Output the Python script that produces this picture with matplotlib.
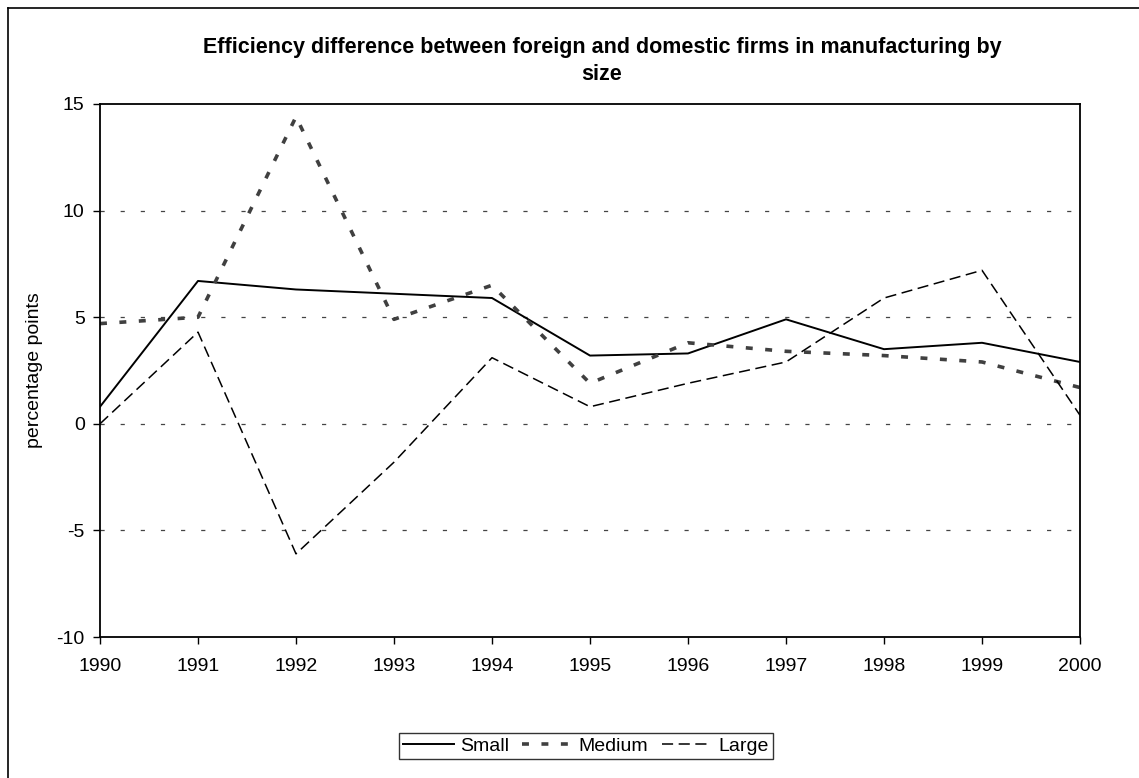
import matplotlib
matplotlib.use('Agg')
import matplotlib.pyplot as plt
from matplotlib.lines import Line2D

plt.rcParams['font.family'] = ['Liberation Sans', 'DejaVu Sans']
plt.rcParams['lines.scale_dashes'] = False
plt.rcParams['axes.unicode_minus'] = False

# efficiency gap, foreign minus domestic, percentage points
years = [1990, 1991, 1992, 1993, 1994, 1995, 1996, 1997, 1998, 1999, 2000]
small = [0.8, 6.7, 6.3, 6.1, 5.9, 3.2, 3.3, 4.9, 3.5, 3.8, 2.9]
medium = [4.7, 5.0, 14.4, 4.9, 6.5, 1.9, 3.8, 3.4, 3.2, 2.9, 1.7]
large = [0.0, 4.3, -6.1, -1.8, 3.1, 0.8, 1.9, 2.9, 5.9, 7.2, 0.4]

W, H = 1139, 778
fig = plt.figure(figsize=(W / 100, H / 100), dpi=100)
ax = fig.add_axes([100 / W, 1 - 637 / H, (1080 - 100) / W, (637 - 104) / H])

ax.plot(years, small, color='black', lw=1.4, label='Small')
ax.plot(years, medium, color='#404040', lw=2.6, dashes=(5, 9), label='Medium')
ax.plot(years, large, color='black', lw=1.1, dashes=(8, 4), label='Large')

ax.set_xlim(1990, 2000)
ax.set_ylim(-10, 15)
ax.set_xticks(years)
ax.set_yticks([-10, -5, 0, 5, 10, 15])
for v in [-5, 0, 5, 10]:
    ax.axhline(v, color='#444444', lw=0.9, dashes=(3, 11.5), zorder=0)

for s in ax.spines.values():
    s.set_linewidth(1.3)
    s.set_color('black')
ax.tick_params(axis='both', direction='out', length=5, width=1, labelsize=14, colors='black')
ax.tick_params(axis='x', pad=10)
ax.tick_params(axis='y', pad=6)

ax.set_ylabel('percentage points', fontsize=14)
ax.yaxis.set_label_coords(-0.058, 0.5)

fig.text(602 / W, 1 - 47 / H, 'Efficiency difference between foreign and domestic firms in manufacturing by',
         ha='center', va='center', fontsize=15.5, fontweight='bold')
fig.text(602 / W, 1 - 75 / H, 'size', ha='center', va='center', fontsize=15.5, fontweight='bold')

leg = fig.legend(loc='center', bbox_to_anchor=(586 / W, 1 - 746 / H), bbox_transform=fig.transFigure,
                 ncol=3, fontsize=14, frameon=True, fancybox=False, handlelength=2.6,
                 handletextpad=0.3, columnspacing=0.7, borderpad=0.2, borderaxespad=0)
leg.get_frame().set_edgecolor('black')
leg.get_frame().set_linewidth(1.0)

# outer chart frame
fig.add_artist(Line2D([8 / W, 8 / W], [0, 1 - 8 / H], transform=fig.transFigure, color='black', lw=1.2))
fig.add_artist(Line2D([8 / W, 1], [1 - 8 / H, 1 - 8 / H], transform=fig.transFigure, color='black', lw=1.2))

fig.savefig('out.png', dpi=100)
